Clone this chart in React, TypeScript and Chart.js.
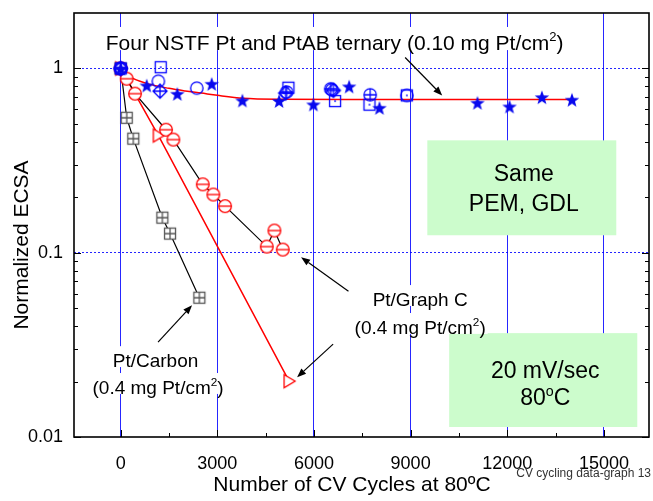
import React, { useEffect, useRef } from 'react';
import { Chart, registerables } from 'chart.js';

Chart.register(...registerables);

const FONT = '"Liberation Sans", Arial, Helvetica, sans-serif';
const BLUE = '#0000ff';
const RED = '#ff0000';

// ---------- data (cycles, normalized ECSA) ----------
// Pt/Carbon (0.4 mg Pt/cm2)
const carbonCycles = [0, 186, 391, 1292, 1531, 2441];
const carbonEcsa = [1.0, 0.54, 0.416, 0.155, 0.127, 0.057];
// Pt/Graph C (0.4 mg Pt/cm2) - circles
const graphCycles = [0, 186, 444, 1407, 1634, 2547, 2876, 3240, 4535, 4771, 5032];
const graphEcsa = [1.0, 0.88, 0.73, 0.465, 0.411, 0.235, 0.207, 0.179, 0.108, 0.132, 0.104];
// Pt/Graph C - triangles
const graphTriCycles = [0, 1168, 5227];
const graphTriEcsa = [1.0, 0.433, 0.0201];
// Four NSTF Pt and PtAB ternary
const starCycles = [0, 808, 1758, 2826, 3777, 4917, 5982, 7091, 8032, 11076, 12070, 13076, 14008];
const starEcsa = [1.0, 0.809, 0.729, 0.826, 0.671, 0.667, 0.638, 0.799, 0.612, 0.652, 0.622, 0.699, 0.677];
const circleCycles = [0, 1168, 2361, 6554, 8883];
const circleEcsa = [1.0, 0.853, 0.782, 0.767, 0.714];
const squareCycles = [0, 1242, 5206, 6656, 7722, 8883];
const squareEcsa = [1.0, 1.016, 0.786, 0.665, 0.636, 0.714];
const diamondCycles = [0, 1221, 5118, 6603];
const diamondEcsa = [1.0, 0.753, 0.735, 0.76];
const circlePlusCycles = [0, 5150, 6520, 7743];
const circlePlusEcsa = [1.0, 0.745, 0.775, 0.72];
// NSTF fitted curve
const fitCycles = [0, 300, 800, 1500, 2000, 2500, 3000, 3800, 5000, 7000, 10000, 14000];
const fitEcsa = [1.0, 0.9, 0.83, 0.78, 0.755, 0.735, 0.715, 0.69, 0.681, 0.679, 0.679, 0.679];

// axis
const xTickLabels = [0, 3000, 6000, 9000, 12000, 15000];
const yTickLabels = [0.01, 0.1, 1];

// ---------- annotations (in data units) ----------
type Part = { t: string; sup?: boolean };
const noteTexts: { x: number; y: number; size: number; parts: Part[] }[] = [
  { x: 6641, y: 1.383, size: 21, parts: [{ t: 'Four NSTF Pt and PtAB ternary (0.10 mg Pt/cm' }, { t: '2', sup: true }, { t: ')' }] },
  { x: 9296, y: 0.056, size: 19, parts: [{ t: 'Pt/Graph C' }] },
  { x: 9296, y: 0.0395, size: 19, parts: [{ t: '(0.4 mg Pt/cm' }, { t: '2', sup: true }, { t: ')' }] },
  { x: 1080, y: 0.0261, size: 19, parts: [{ t: 'Pt/Carbon' }] },
  { x: 1159, y: 0.01866, size: 19, parts: [{ t: '(0.4 mg Pt/cm' }, { t: '2', sup: true }, { t: ')' }] },
];
const noteBoxes: { x0: number; x1: number; y0: number; y1: number; lines: { y: number; parts: Part[] }[] }[] = [
  {
    x0: 9518, x1: 15384, y0: 0.4073, y1: 0.1244,
    lines: [
      { y: 0.2731, parts: [{ t: 'Same' }] },
      { y: 0.1878, parts: [{ t: 'PEM, GDL' }] },
    ],
  },
  {
    x0: 10197, x1: 16036, y0: 0.03662, y1: 0.01133,
    lines: [
      { y: 0.02307, parts: [{ t: '20 mV/sec' }] },
      { y: 0.01647, parts: [{ t: '80' }, { t: 'o', sup: true }, { t: 'C' }] },
    ],
  },
];
const noteArrows = [
  { x0: 8830, y0: 1.147, x1: 9980, y1: 0.714 },
  { x0: 7070, y0: 0.0618, x1: 5600, y1: 0.0945 },
  { x0: 6594, y0: 0.0319, x1: 5476, y1: 0.0211 },
  { x0: 1159, y0: 0.0327, x1: 2215, y1: 0.0519 },
];

const pts = (xs: number[], ys: number[]) => xs.map((x, i) => ({ x, y: ys[i] }));

function makeMarker(kind: string): HTMLCanvasElement {
  const S = 20;
  const c = document.createElement('canvas');
  c.width = S;
  c.height = S;
  const g = c.getContext('2d') as CanvasRenderingContext2D;
  const m = S / 2;
  g.lineWidth = 1.3;
  if (kind === 'star') {
    g.fillStyle = '#0808ee';
    g.beginPath();
    for (let i = 0; i < 10; i++) {
      const r = i % 2 === 0 ? 7.6 : 3.1;
      const a = -Math.PI / 2 + (i * Math.PI) / 5;
      const px = m + r * Math.cos(a);
      const py = m + 0.8 + r * Math.sin(a);
      if (i === 0) g.moveTo(px, py);
      else g.lineTo(px, py);
    }
    g.closePath();
    g.fill();
  } else if (kind === 'circle') {
    g.strokeStyle = BLUE;
    g.beginPath();
    g.arc(m, m, 6.2, 0, Math.PI * 2);
    g.stroke();
  } else if (kind === 'square') {
    g.strokeStyle = BLUE;
    g.strokeRect(m - 5.5, m - 5.5, 11, 11);
    g.fillStyle = BLUE;
    g.fillRect(m - 0.8, m - 0.8, 1.6, 1.6);
  } else if (kind === 'diamondPlus') {
    g.strokeStyle = BLUE;
    g.beginPath();
    g.moveTo(m, m - 7);
    g.lineTo(m + 7, m);
    g.lineTo(m, m + 7);
    g.lineTo(m - 7, m);
    g.closePath();
    g.moveTo(m - 7, m);
    g.lineTo(m + 7, m);
    g.moveTo(m, m - 7);
    g.lineTo(m, m + 7);
    g.stroke();
  } else if (kind === 'circlePlus') {
    g.strokeStyle = BLUE;
    g.beginPath();
    g.arc(m, m, 6.2, 0, Math.PI * 2);
    g.moveTo(m - 6.2, m);
    g.lineTo(m + 6.2, m);
    g.moveTo(m, m - 6.2);
    g.lineTo(m, m + 6.2);
    g.stroke();
  } else if (kind === 'squarePlus') {
    g.fillStyle = '#fff';
    g.fillRect(m - 5.5, m - 5.5, 11, 11);
    g.strokeStyle = '#555';
    g.strokeRect(m - 5.5, m - 5.5, 11, 11);
    g.beginPath();
    g.moveTo(m - 5.5, m);
    g.lineTo(m + 5.5, m);
    g.moveTo(m, m - 5.5);
    g.lineTo(m, m + 5.5);
    g.stroke();
  } else if (kind === 'circleMinus') {
    g.fillStyle = '#fff';
    g.strokeStyle = RED;
    g.beginPath();
    g.arc(m, m, 6.3, 0, Math.PI * 2);
    g.fill();
    g.stroke();
    g.beginPath();
    g.moveTo(m - 6.3, m);
    g.lineTo(m + 6.3, m);
    g.stroke();
  } else if (kind === 'triRight') {
    g.fillStyle = '#fff';
    g.strokeStyle = RED;
    g.beginPath();
    g.moveTo(m - 5, m - 6.5);
    g.lineTo(m + 6, m);
    g.lineTo(m - 5, m + 6.5);
    g.closePath();
    g.fill();
    g.stroke();
  }
  return c;
}

function drawRich(ctx: CanvasRenderingContext2D, parts: Part[], cx: number, cy: number, size: number, bg: string | null) {
  const supSize = size * 0.62;
  const widths = parts.map((p) => {
    ctx.font = `${p.sup ? supSize : size}px ${FONT}`;
    return ctx.measureText(p.t).width;
  });
  const total = widths.reduce((a, b) => a + b, 0);
  const base = cy + size * 0.36;
  let x = cx - total / 2;
  if (bg) {
    ctx.fillStyle = bg;
    ctx.fillRect(x - 2, base - size * 1.1, total + 4, size * 1.1);
  }
  ctx.fillStyle = '#000';
  ctx.textAlign = 'left';
  ctx.textBaseline = 'alphabetic';
  parts.forEach((p, i) => {
    ctx.font = `${p.sup ? supSize : size}px ${FONT}`;
    ctx.fillText(p.t, x, p.sup ? base - size * 0.42 : base);
    x += widths[i];
  });
}

const annotPlugin = {
  id: 'annot',
  beforeDatasetsDraw(chart: any) {
    const { ctx, scales } = chart;
    const X = (v: number) => scales.x.getPixelForValue(v);
    const Y = (v: number) => scales.y.getPixelForValue(v);
    ctx.save();
    noteBoxes.forEach((b) => {
      const x0 = X(b.x0), x1 = X(b.x1), y0 = Y(b.y0), y1 = Y(b.y1);
      ctx.fillStyle = '#ccfccc';
      ctx.fillRect(x0, y0, x1 - x0, y1 - y0);
      const cx = (x0 + x1) / 2 + 2;
      b.lines.forEach((ln) => drawRich(ctx, ln.parts, cx, Y(ln.y), 23, null));
    });
    noteTexts.forEach((t) => drawRich(ctx, t.parts, X(t.x), Y(t.y), t.size, '#fff'));
    ctx.strokeStyle = '#000';
    ctx.fillStyle = '#000';
    ctx.lineWidth = 1.2;
    noteArrows.forEach((a) => {
      const x0 = X(a.x0), y0 = Y(a.y0), x1 = X(a.x1), y1 = Y(a.y1);
      const ang = Math.atan2(y1 - y0, x1 - x0);
      const L = 9, W = 3.5;
      const bx = x1 - L * Math.cos(ang), by = y1 - L * Math.sin(ang);
      ctx.beginPath();
      ctx.moveTo(x0, y0);
      ctx.lineTo(bx, by);
      ctx.stroke();
      ctx.beginPath();
      ctx.moveTo(x1, y1);
      ctx.lineTo(bx + W * Math.sin(ang), by - W * Math.cos(ang));
      ctx.lineTo(bx - W * Math.sin(ang), by + W * Math.cos(ang));
      ctx.closePath();
      ctx.fill();
    });
    ctx.restore();
  },
  afterDatasetsDraw(chart: any) {
    const { ctx, chartArea: a, scales } = chart;
    ctx.save();
    ctx.strokeStyle = '#000';
    ctx.lineWidth = 1;
    ctx.beginPath();
    yTickLabels.forEach((d) => {
      for (let k = 1; k <= 9; k++) {
        const v = k * d;
        if (v >= scales.y.max || v < scales.y.min) continue;
        const py = Math.round(scales.y.getPixelForValue(v)) + 0.5;
        const len = k === 1 ? 7 : 4;
        ctx.moveTo(a.left, py);
        ctx.lineTo(a.left + len, py);
        ctx.moveTo(a.right, py);
        ctx.lineTo(a.right - len, py);
      }
    });
    for (let v = 0; v <= 16000; v += 1500) {
      if (v > scales.x.max) break;
      const px = Math.round(scales.x.getPixelForValue(v)) + 0.5;
      const len = v % 3000 === 0 ? 7 : 4;
      ctx.moveTo(px, a.bottom);
      ctx.lineTo(px, a.bottom - len);
    }
    ctx.stroke();
    ctx.lineWidth = 1.6;
    ctx.strokeRect(a.left, a.top, a.right - a.left, a.bottom - a.top);
    ctx.restore();
  },
  afterDraw(chart: any) {
    const { ctx } = chart;
    ctx.save();
    ctx.fillStyle = '#000';
    ctx.textAlign = 'center';
    ctx.textBaseline = 'middle';
    ctx.font = `21px ${FONT}`;
    ctx.fillText('Number of CV Cycles at 80ºC', 352, 485);
    ctx.translate(22, 245);
    ctx.rotate(-Math.PI / 2);
    ctx.fillText('Normalized ECSA', 0, 0);
    ctx.restore();
    ctx.save();
    ctx.fillStyle = '#333';
    ctx.textAlign = 'right';
    ctx.textBaseline = 'middle';
    ctx.font = `12px ${FONT}`;
    ctx.fillText('CV cycling data-graph 13', 651, 474);
    ctx.restore();
  },
};

const zeroPad = (s: any) => {
  s.paddingTop = 0;
  s.paddingBottom = 0;
  s.paddingLeft = 0;
  s.paddingRight = 0;
};

export default function App() {
  const ref = useRef<HTMLCanvasElement>(null);
  useEffect(() => {
    const canvas = ref.current as HTMLCanvasElement;
    const mk = {
      star: makeMarker('star'),
      circle: makeMarker('circle'),
      square: makeMarker('square'),
      diamondPlus: makeMarker('diamondPlus'),
      circlePlus: makeMarker('circlePlus'),
      squarePlus: makeMarker('squarePlus'),
      circleMinus: makeMarker('circleMinus'),
      triRight: makeMarker('triRight'),
    };
    const sym = (style: HTMLCanvasElement) => ({ pointStyle: style as any, pointRadius: 6, pointHoverRadius: 6 });
    const chart = new Chart(canvas, {
      type: 'scatter',
      data: {
        datasets: [
          { label: 'NSTF stars', data: pts(starCycles, starEcsa), showLine: false, ...sym(mk.star) },
          { label: 'NSTF circles', data: pts(circleCycles, circleEcsa), showLine: false, ...sym(mk.circle) },
          { label: 'NSTF squares', data: pts(squareCycles, squareEcsa), showLine: false, ...sym(mk.square) },
          { label: 'NSTF diamonds', data: pts(diamondCycles, diamondEcsa), showLine: false, ...sym(mk.diamondPlus) },
          { label: 'NSTF circle plus', data: pts(circlePlusCycles, circlePlusEcsa), showLine: false, ...sym(mk.circlePlus) },
          { label: 'Pt/Graph C', data: pts(graphCycles, graphEcsa), showLine: true, borderColor: '#000', borderWidth: 1.2, ...sym(mk.circleMinus) },
          { label: 'Pt/Carbon', data: pts(carbonCycles, carbonEcsa), showLine: true, borderColor: '#000', borderWidth: 1.2, ...sym(mk.squarePlus) },
          { label: 'Pt/Graph C tri', data: pts(graphTriCycles, graphTriEcsa), showLine: true, borderColor: RED, borderWidth: 1.5, ...sym(mk.triRight) },
          { label: 'NSTF fit', data: pts(fitCycles, fitEcsa), showLine: true, borderColor: RED, borderWidth: 1.5, pointRadius: 0, cubicInterpolationMode: 'monotone' } as any,
        ],
      },
      options: {
        responsive: false,
        devicePixelRatio: 1,
        animation: false,
        events: [],
        layout: { autoPadding: false, padding: { left: 0, right: 4, top: 13, bottom: 0 } },
        plugins: { legend: { display: false }, tooltip: { enabled: false } },
        scales: {
          x: {
            type: 'linear',
            min: -1450,
            max: 16400,
            afterBuildTicks: (s: any) => {
              s.ticks = xTickLabels.map((v) => ({ value: v }));
            },
            afterFit: (s: any) => {
              s.height = 64;
              zeroPad(s);
            },
            ticks: {
              autoSkip: false,
              maxRotation: 0,
              padding: 16,
              color: '#000',
              font: { family: FONT, size: 18 },
              callback: (v: any) => String(v),
            },
            grid: {
              drawTicks: false,
              lineWidth: 1,
              color: 'rgba(0,0,255,0.85)',
            },
            border: { display: false },
          },
          y: {
            type: 'logarithmic',
            min: 0.01,
            max: 2,
            afterBuildTicks: (s: any) => {
              s.ticks = yTickLabels.map((v) => ({ value: v }));
            },
            afterFit: (s: any) => {
              s.width = 74;
              zeroPad(s);
            },
            ticks: {
              autoSkip: false,
              padding: 11,
              color: '#000',
              font: { family: FONT, size: 18 },
              callback: (v: any) => String(Number(v)),
            },
            grid: {
              drawTicks: false,
              lineWidth: 1,
              color: (c: any) => (c.tick && c.tick.value > 0.011 ? 'rgba(0,0,255,0.85)' : 'rgba(0,0,0,0)'),
            },
            border: { display: false, dash: [2, 2] },
          },
        },
      } as any,
      plugins: [annotPlugin],
    });
    return () => chart.destroy();
  }, []);
  return (
    <div style={{ position: 'fixed', left: 0, top: 0, width: 653, height: 501, background: '#fff' }}>
      <canvas ref={ref} width={653} height={501} style={{ display: 'block', width: 653, height: 501 }} />
    </div>
  );
}
